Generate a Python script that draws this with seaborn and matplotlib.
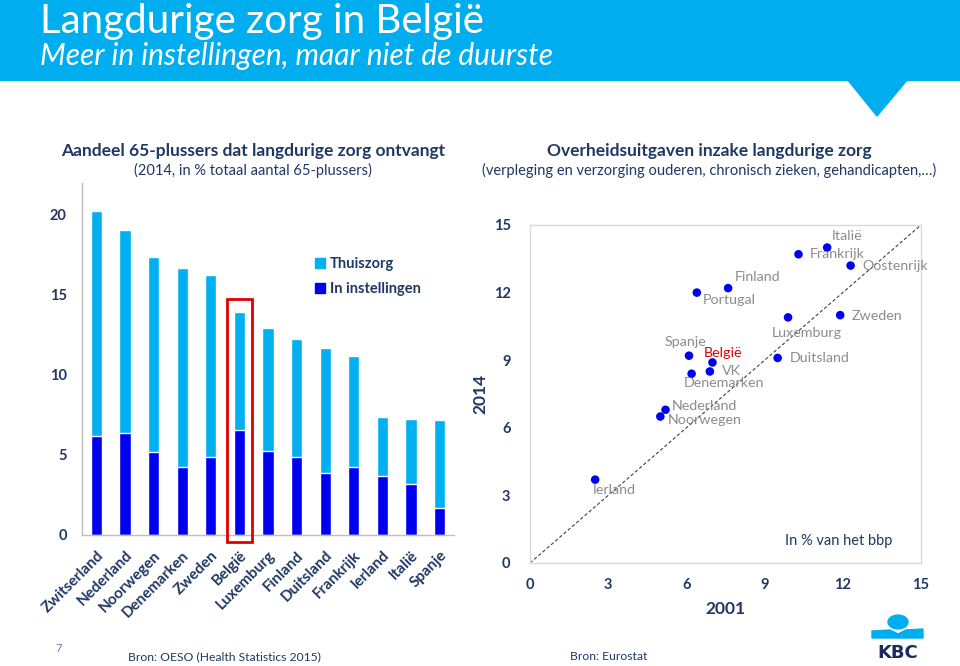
import numpy as np
import pandas as pd
import matplotlib
matplotlib.use("Agg")
import matplotlib.pyplot as plt
import seaborn as sns
from matplotlib.patches import Rectangle, Polygon, Circle, Patch

# ---------------- data ----------------
landen = ["Zwitserland", "Nederland", "Noorwegen", "Denemarken", "Zweden", "België",
          "Luxemburg", "Finland", "Duitsland", "Frankrijk", "Ierland", "Italië", "Spanje"]
totaal = [20.25, 19.05, 17.35, 16.65, 16.25, 13.95, 12.95, 12.25, 11.65, 11.15, 7.35, 7.25, 7.15]
instellingen = [6.15, 6.35, 5.15, 4.25, 4.85, 6.55, 5.25, 4.85, 3.85, 4.25, 3.65, 3.15, 1.65]

landen2 = ["Italië", "Frankrijk", "Oostenrijk", "Finland", "Portugal", "Zweden", "Luxemburg",
           "Spanje", "België", "Duitsland", "VK", "Denemarken", "Nederland", "Noorwegen", "Ierland"]
uitg_2001 = [11.4, 10.3, 12.3, 7.6, 6.4, 11.9, 9.9, 6.1, 7.0, 9.5, 6.9, 6.2, 5.2, 5.0, 2.5]
uitg_2014 = [14.0, 13.7, 13.2, 12.2, 12.0, 11.0, 10.9, 9.2, 8.9, 9.1, 8.5, 8.4, 6.8, 6.5, 3.7]

bar_ticks = [0, 5, 10, 15, 20]
sc_ticks = [0, 3, 6, 9, 12, 15]

# label offsets (pixels: dx right, dy down)
label_offsets = {
    "Italië": (5, -12), "Frankrijk": (11, 0), "Oostenrijk": (12, 0), "Finland": (7, -11),
    "Portugal": (6, 7), "Zweden": (11, 1), "Luxemburg": (-16, 16), "Spanje": (-24, -14),
    "België": (-9, -9), "Duitsland": (12, 0), "VK": (12, 0), "Denemarken": (-8, 9),
    "Nederland": (6, -4), "Noorwegen": (7, 3), "Ierland": (-2, 10),
}

# ---------------- style ----------------
sns.set_style("white")
plt.rcParams["font.family"] = ["Lato", "DejaVu Sans"]

W, H = 960, 666
NAVY = "#1F3864"
LIGHT = "#00B0F0"
DARK = "#0000F0"
HEAD = "#00AEEF"
GRID = "#BFBFBF"

fig = plt.figure(figsize=(W / 100, H / 100), dpi=100)


def fx(x):
    return x / W


def fy(y):
    return 1 - y / H


def px_axes(x0, y0, x1, y1):
    return fig.add_axes([fx(x0), fy(y1), (x1 - x0) / W, (y1 - y0) / H])


# ---------------- header ----------------
fig.patches.append(Rectangle((0, fy(80)), 1, 80 / H, transform=fig.transFigure,
                             color=HEAD, zorder=0))
fig.patches.append(Polygon([(fx(847), fy(79)), (fx(908), fy(79)), (fx(877), fy(116))],
                           closed=True, transform=fig.transFigure, color=HEAD, zorder=0))
fig.text(fx(40), fy(21), "Langdurige zorg in België", color="white", fontsize=29,
         va="center", ha="left")
fig.text(fx(40), fy(56), "Meer in instellingen, maar niet de duurste", color="white",
         fontsize=21.5, style="italic", va="center", ha="left")

# chart titles
fig.text(fx(253), fy(151), "Aandeel 65-plussers dat langdurige zorg ontvangt", color=NAVY,
         fontsize=12.5, fontweight="bold", ha="center", va="center")
fig.text(fx(253), fy(170), "(2014, in % totaal aantal 65-plussers)", color=NAVY,
         fontsize=10.5, ha="center", va="center")
fig.text(fx(709), fy(151), "Overheidsuitgaven inzake langdurige zorg", color=NAVY,
         fontsize=12.5, fontweight="bold", ha="center", va="center")
fig.text(fx(709), fy(170), "(verpleging en verzorging ouderen, chronisch zieken, gehandicapten,…)",
         color=NAVY, fontsize=10.5, ha="center", va="center")

# ---------------- left: stacked bars ----------------
ax = px_axes(82, 183, 454, 534.5)
df = pd.DataFrame({"land": landen, "totaal": totaal, "instellingen": instellingen})
sns.barplot(data=df, x="land", y="totaal", color=LIGHT, saturation=1, width=0.39,
            errorbar=None, ax=ax)
sns.barplot(data=df, x="land", y="instellingen", color=DARK, saturation=1, width=0.39,
            errorbar=None, ax=ax)
ax.set_ylim(0, 22)
ax.set_xlim(-0.5, len(landen) - 0.5)
ax.set_yticks(bar_ticks)
ax.set_xlabel("")
ax.set_ylabel("")
for s in ["top", "right"]:
    ax.spines[s].set_visible(False)
for s in ["left", "bottom"]:
    ax.spines[s].set_color(GRID)
    ax.spines[s].set_linewidth(1)
ax.tick_params(axis="y", length=5, color=GRID, labelsize=10.5, labelcolor=NAVY, pad=6)
for t in ax.get_yticklabels():
    t.set_fontweight("bold")
ax.set_xticks(np.arange(len(landen)))
ax.set_xticklabels(landen, rotation=45, ha="right", rotation_mode="anchor",
                   fontsize=11, fontweight="bold", color=NAVY)
ax.tick_params(axis="x", length=0, pad=10)
ax.set_xticks(np.arange(len(landen) + 1) - 0.5, minor=True)
ax.tick_params(axis="x", which="minor", length=5, color=GRID)

# red highlight around België
bi = landen.index("België")
ax.add_patch(Rectangle((bi - 0.43, -0.48), 0.86, 15.2, fill=False, edgecolor="#E00000",
                       linewidth=2, clip_on=False, zorder=5))

handles = [Patch(color=LIGHT), Patch(color=DARK)]
leg = ax.legend(handles, ["Thuiszorg", "In instellingen"], loc="upper left",
                bbox_to_anchor=(fx(302), fy(244)), bbox_transform=fig.transFigure,
                frameon=False, handlelength=0.65, handleheight=0.65, handletextpad=0.35,
                labelspacing=0.75, fontsize=10.5)
for t in leg.get_texts():
    t.set_color(NAVY)
    t.set_fontweight("bold")

# ---------------- right: scatter ----------------
ax2 = px_axes(530, 225, 921, 563)
ax2.plot([0, 15], [0, 15], linestyle=(0, (3, 2)), color="#404040", linewidth=0.8, zorder=1)
df2 = pd.DataFrame({"land": landen2, "x": uitg_2001, "y": uitg_2014})
sns.scatterplot(data=df2, x="x", y="y", color="#0000F0", s=38, edgecolor="none",
                zorder=3, ax=ax2)
for land, xv, yv in zip(landen2, uitg_2001, uitg_2014):
    dx, dy = label_offsets[land]
    ax2.annotate(land, (xv, yv), xytext=(dx * 0.72, -dy * 0.72), textcoords="offset points",
                 ha="left", va="center", fontsize=10.3,
                 color="#E00000" if land == "België" else "#8C8C8C", zorder=4)
ax2.set_xlim(0, 15)
ax2.set_ylim(0, 15)
ax2.set_xticks(sc_ticks)
ax2.set_yticks(sc_ticks)
for s in ax2.spines.values():
    s.set_color("#D9D9D9")
    s.set_linewidth(1)
ax2.tick_params(axis="both", length=4, color="#D9D9D9", labelsize=10.5, labelcolor=NAVY)
ax2.tick_params(axis="y", pad=10)
ax2.tick_params(axis="x", pad=7)
for t in ax2.get_xticklabels() + ax2.get_yticklabels():
    t.set_fontweight("bold")
ax2.set_xlabel("2001", fontsize=12.5, fontweight="bold", color=NAVY, labelpad=6)
ax2.set_ylabel("2014", fontsize=12.5, fontweight="bold", color=NAVY, labelpad=4)
ax2.text(13.92, 0.98, "In % van het bbp", ha="right", va="center", fontsize=10.5, color=NAVY)

# ---------------- footer ----------------
fig.text(fx(55), fy(648), "7", fontsize=8, color="#5B7DB0", ha="left", va="center")
fig.text(fx(128), fy(657), "Bron: OESO (Health Statistics 2015)", fontsize=8.7, color=NAVY,
         ha="left", va="center")
fig.text(fx(570), fy(656), "Bron: Eurostat", fontsize=8.7, color=NAVY, ha="left", va="center")

# KBC logo
fig.patches.append(Circle((fx(898), fy(622)), 10 / W, transform=fig.transFigure,
                          color=HEAD, zorder=2))
fig.patches.append(Polygon([(fx(872), fy(631)), (fx(890), fy(630)), (fx(898), fy(634)),
                            (fx(906), fy(630)), (fx(923), fy(629)), (fx(923), fy(638)),
                            (fx(872), fy(638))], closed=True, transform=fig.transFigure,
                           color=HEAD, zorder=2))
fig.text(fx(897.5), fy(653), "KBC", fontsize=13, fontweight="heavy", color="#1B2A5C",
         ha="center", va="center", family="DejaVu Sans")

fig.savefig("out.png", dpi=100)
